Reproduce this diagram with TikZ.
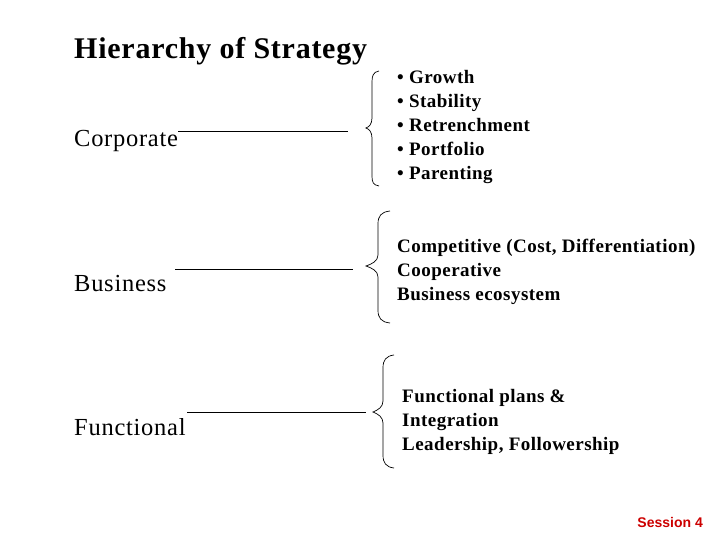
\documentclass[tikz,border=0pt]{standalone}
\usepackage{fontspec}
\setmainfont{Liberation Serif}
\newfontfamily\sessfont{Liberation Sans}
\definecolor{sessred}{RGB}{204,0,0}
\begin{document}
\begin{tikzpicture}[x=1pt,y=-1pt,
  titletxt/.style={anchor=base west,inner sep=0pt,font=\fontsize{30}{32}\selectfont\bfseries\addfontfeature{LetterSpace=2.5}},
  leveltxt/.style={anchor=base west,inner sep=0pt,font=\fontsize{24.5}{26}\selectfont\addfontfeature{LetterSpace=3}},
  itemtxt/.style={anchor=base west,inner sep=0pt,font=\fontsize{19}{24}\selectfont\bfseries\addfontfeature{LetterSpace=2.5}},
  conn/.style={line width=0.8pt},
  bracestyle/.style={line width=0.7pt}]
\useasboundingbox (0,0) rectangle (720,540);

\node[titletxt] (title) at (74,59) {Hierarchy of Strategy};

\node[leveltxt] (corp) at (74,147) {Corporate};
\node[leveltxt] (bus) at (74,291) {Business};
\node[leveltxt] (func) at (74,435) {Functional};

% connector lines
\coordinate (c1) at (178,131);
\coordinate (c2) at (348,131);
\coordinate (b1) at (175,269);
\coordinate (b2) at (353,269);
\coordinate (f1) at (187,412);
\coordinate (f2) at (366,412);
\draw[conn] (c1) -- (c2);
\draw[conn] (b1) -- (b2);
\draw[conn] (f1) -- (f2);

% braces
\draw[bracestyle] (379,71) .. controls (373,72) and (372,76) .. (372,82)
  -- (372,118) .. controls (372,124) and (369,127) .. (366,128)
  .. controls (369,129) and (372,132) .. (372,138)
  -- (372,176) .. controls (372,182) and (373,185) .. (379,186);
\draw[bracestyle] (390,211) .. controls (381,212) and (378,216) .. (378,224)
  -- (378,255) .. controls (378,261) and (372,264) .. (366,266)
  .. controls (372,268) and (378,271) .. (378,277)
  -- (378,310) .. controls (378,318) and (381,322) .. (390,323);
\draw[bracestyle] (394,355) .. controls (386,356) and (383,360) .. (383,368)
  -- (383,401) .. controls (383,407) and (378,410) .. (373,412)
  .. controls (378,414) and (383,417) .. (383,423)
  -- (383,455) .. controls (383,463) and (386,467) .. (394,468);

\node[itemtxt] (ci1) at (397,84) {\textbullet\ Growth};
\node[itemtxt] (ci2) at (397,108) {\textbullet\ Stability};
\node[itemtxt] (ci3) at (397,132) {\textbullet\ Retrenchment};
\node[itemtxt] (ci4) at (397,156) {\textbullet\ Portfolio};
\node[itemtxt] (ci5) at (397,180) {\textbullet\ Parenting};

\node[itemtxt] (bi1) at (397,252) {Competitive (Cost, Differentiation)};
\node[itemtxt] (bi2) at (397,276) {Cooperative};
\node[itemtxt] (bi3) at (397,300) {Business ecosystem};

\node[itemtxt] (fi1) at (402,402) {Functional plans \&};
\node[itemtxt] (fi2) at (402,426) {Integration};
\node[itemtxt] (fi3) at (402,450) {Leadership, Followership};

\node[anchor=base east,inner sep=0pt,text=sessred,font=\sessfont\fontsize{14}{16}\selectfont\bfseries] (session) at (703,527) {Session 4};
\end{tikzpicture}
\end{document}
